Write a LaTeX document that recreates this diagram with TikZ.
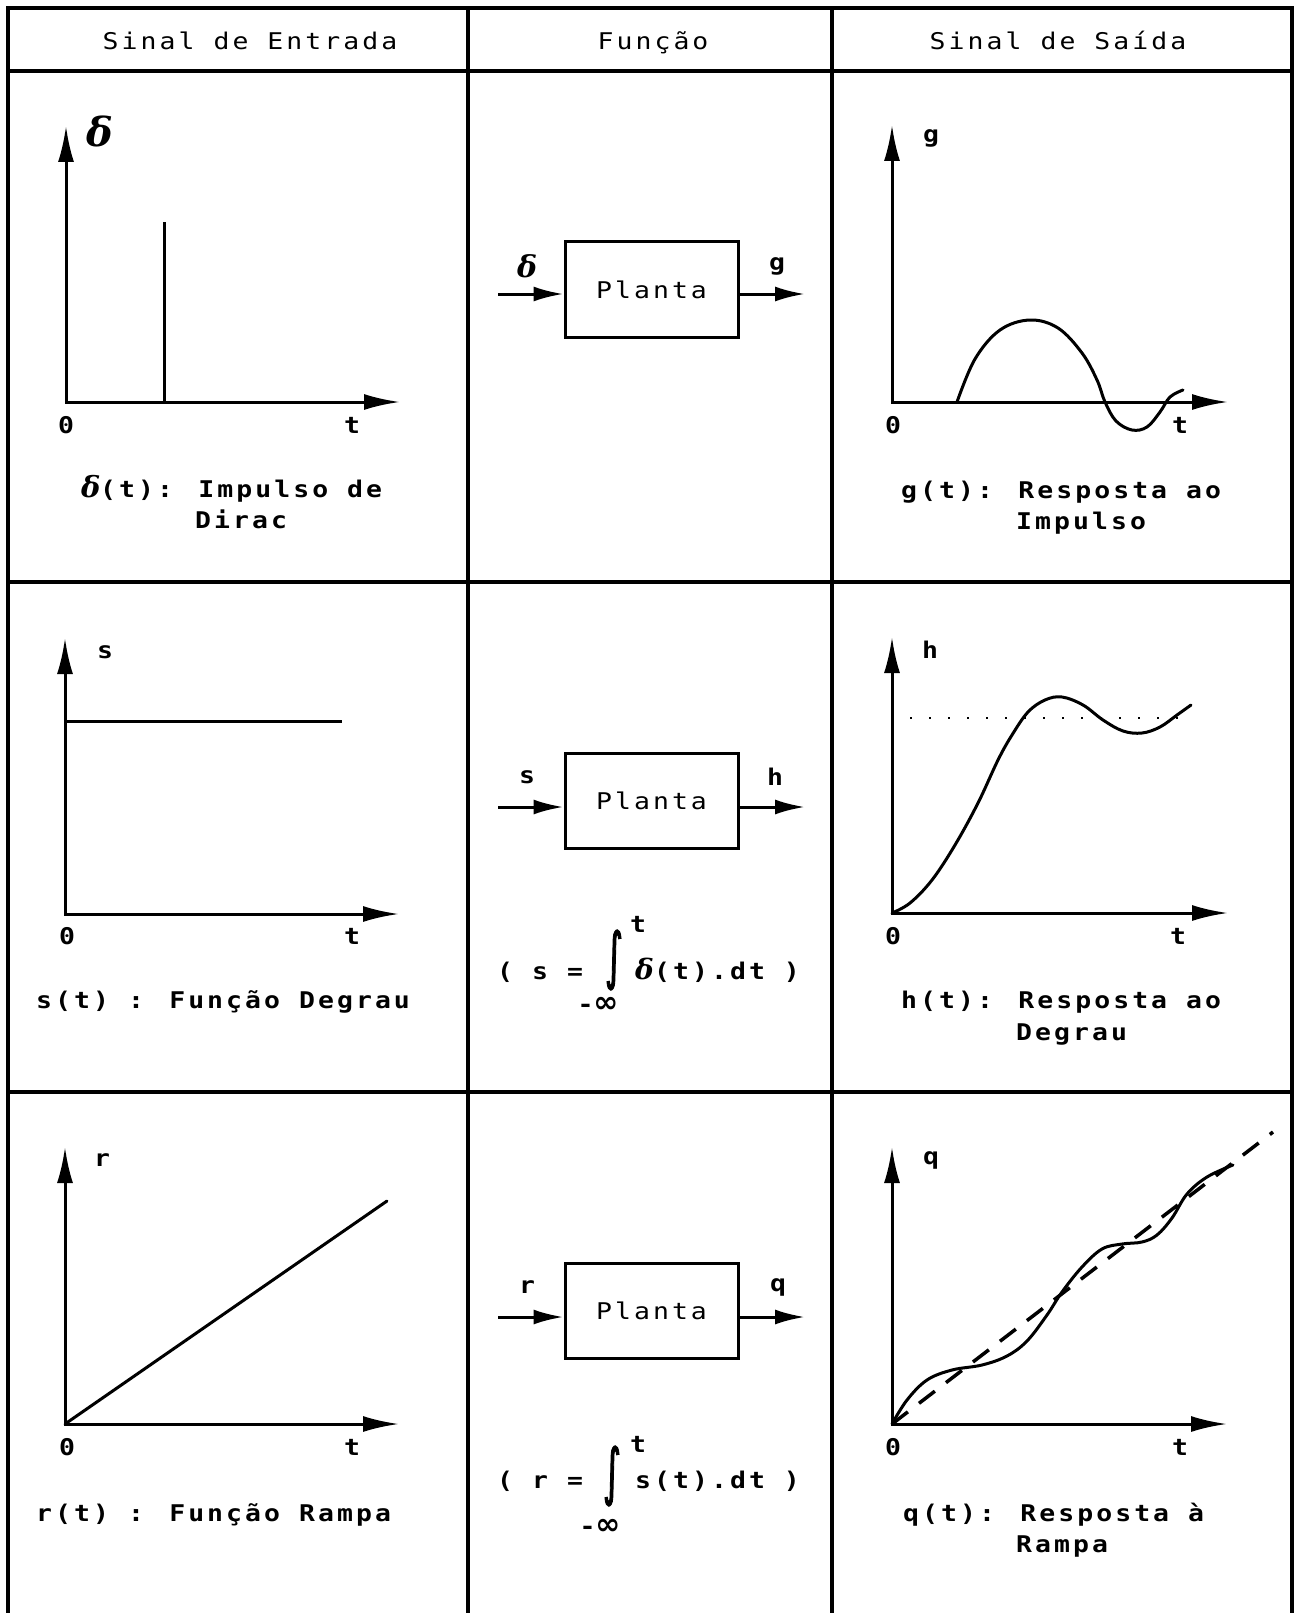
\documentclass[tikz,border=0pt]{standalone}
\usepackage{fontspec}
\usetikzlibrary{arrows.meta}
\newfontfamily\dm[FakeStretch=1.15,LetterSpace=13.3]{DejaVu Sans Mono}
\newfontfamily\dlt{DejaVu Serif}
\newfontfamily\djs{DejaVu Sans}
\newfontfamily\intf[FakeBold=2.5]{DejaVu Sans}
\newcommand\txtr{\dm\fontsize{23}{28}\selectfont}
\newcommand\txtb{\dm\bfseries\fontsize{23}{28}\selectfont}
\newcommand\dbig[1]{{\dlt\bfseries\itshape\fontsize{#1}{#1}\selectfont δ}}
\newcommand\intg[2]{\resizebox*{#1}{#2}{\intf ∫}}
\newcommand\minf{{\txtb-}{\djs\bfseries\fontsize{30}{30}\selectfont ∞}}
\tikzset{
 tbl/.style={line width=3.2pt},
 ax/.style={line width=3pt, {Latex[length=36pt,width=16pt]}-{Latex[length=36pt,width=16pt]}, line join=miter},
 crv/.style={line width=3pt, line cap=round, line join=round},
 blk/.style={draw, line width=3pt, minimum width=173pt, minimum height=95pt, inner sep=0pt, font=\txtr},
 sig/.style={line width=3pt, -{Latex[length=30pt,width=15pt]}},
 lab/.style={inner sep=0pt, font=\txtb},
 lbase/.style={inner sep=0pt, font=\txtb, anchor=base},
 capt/.style={inner sep=0pt, font=\txtb, anchor=base west},
 head/.style={inner sep=0pt, font=\txtr, anchor=base},
 dotl/.style={line width=2.2pt, dash pattern=on 2.2pt off 16.8pt},
 dashl/.style={line width=3.5pt, dash pattern=on 20pt off 14pt},
}
\begin{document}
\begin{tikzpicture}[x=1pt,y=-1pt]
\useasboundingbox (0,0) rectangle (1296,1613);
% table
\draw[tbl] (8,1613) -- (8,8) -- (1292,8) -- (1292,1613);
\draw[tbl] (8,71) -- (1292,71);
\draw[tbl] (8,582) -- (1292,582);
\draw[tbl] (8,1092) -- (1292,1092);
\draw[tbl] (468,8) -- (468,1613);
\draw[tbl] (832,8) -- (832,1613);
% headers
\node[head] (h1) at (250,50) {Sinal de Entrada};
\node[head] (h2) at (653,50) {Função};
\node[head] (h3) at (1058,50) {Sinal de Saída};

% ===== Row 1 left
\coordinate (o1) at (66,402); \coordinate (ya1) at (66,126); \coordinate (xa1) at (400,402);
\draw[ax] (ya1) -- (o1) -- (xa1);
\coordinate (i1b) at (164,402); \coordinate (i1t) at (164,222);
\draw[line width=3pt] (i1b) -- (i1t);
\node[lab] (d1) at (100,131) {\dbig{40}};
\node[lbase] (z1) at (66,433) {0};
\node[lbase] (t1) at (352,433) {t};
\node[capt] (c1) at (81,497) {\makebox[19pt][l]{\dbig{29}}(t): Impulso de};
\node[capt] (c1b) at (195,528) {Dirac};

% ===== Row 1 middle
\node[blk] (b1) at (651.5,289.5) {Planta};
\coordinate (in1) at (498,294); \coordinate (out1) at (805,294);
\draw[sig] (in1) -- (in1 -| b1.west);
\draw[sig] (b1.east |- out1) -- (out1);
\node[lab] (bd1) at (527,266) {\dbig{30}};
\node[lab] (bg1) at (777,266) {g};

% ===== Row 1 right
\coordinate (o3) at (892,402); \coordinate (ya3) at (892,125); \coordinate (xa3) at (1228,402);
\draw[ax] (ya3) -- (o3) -- (xa3);
\draw[crv] plot[smooth, tension=0.6] coordinates {(957,402) (975,359) (1000,330) (1030,320) (1058,328) (1082,353) (1097,380) (1105,402) (1116,421) (1132,430) (1147,427) (1160,412) (1170,397) (1183,390)};
\node[lab] (g3) at (931,138) {g};
\node[lbase] (z3) at (893,433) {0};
\node[lbase] (t3) at (1180,433) {t};
\node[capt] (c3) at (901,498) {g(t): Resposta ao};
\node[capt] (c3b) at (1016,529) {Impulso};

% ===== Row 2 left
\coordinate (o4) at (65,914); \coordinate (ya4) at (65,638); \coordinate (xa4) at (399,914);
\draw[ax] (ya4) -- (o4) -- (xa4);
\coordinate (s4a) at (65,721); \coordinate (s4b) at (342,721);
\draw[line width=3pt] (s4a) -- (s4b);
\node[lab] (s4) at (105,652) {s};
\node[lbase] (z4) at (67,944) {0};
\node[lbase] (t4) at (352,944) {t};
\node[capt] (c4) at (36,1008) {s(t) : Função Degrau};

% ===== Row 2 middle
\node[blk] (b2) at (651.5,800.5) {Planta};
\coordinate (in2) at (498,807); \coordinate (out2) at (805,807);
\draw[sig] (in2) -- (in2 -| b2.west);
\draw[sig] (b2.east |- out2) -- (out2);
\node[lab] (bs2) at (527,777) {s};
\node[lab] (bh2) at (775,777) {h};
\node[capt] (f2a) at (497,979) {( s =};
\node[inner sep=0pt] (f2i) at (614,960) {\intg{18pt}{60pt}};
\node[lab] (f2t) at (638,924) {t};
\node[inner sep=0pt] (f2m) at (598,1005) {\minf};
\node[capt] (f2b) at (635,979) {\makebox[19pt][l]{\dbig{28}}(t).dt )};

% ===== Row 2 right
\coordinate (o6) at (892,913); \coordinate (ya6) at (892,637); \coordinate (xa6) at (1228,913);
\draw[ax] (ya6) -- (o6) -- (xa6);
\coordinate (dl6a) at (910,718); \coordinate (dl6b) at (1184,718);
\draw[dotl] (dl6a) -- (dl6b);
\draw[crv] plot[smooth, tension=0.6] coordinates {(892,913) (910,903) (932,880) (955,845) (978,803) (998,760) (1012,735) (1028,712) (1045,700) (1062,697) (1083,705) (1103,720) (1123,731) (1142,733) (1160,727) (1177,715) (1191,705)};
\node[lab] (h6) at (930,650) {h};
\node[lbase] (z6) at (893,944) {0};
\node[lbase] (t6) at (1178,944) {t};
\node[capt] (c6) at (901,1008) {h(t): Resposta ao};
\node[capt] (c6b) at (1016,1040) {Degrau};

% ===== Row 3 left
\coordinate (o7) at (65,1424); \coordinate (ya7) at (65,1147); \coordinate (xa7) at (399,1424);
\draw[ax] (ya7) -- (o7) -- (xa7);
\coordinate (re7) at (387,1201);
\draw[crv] (o7) -- (re7);
\node[lab] (r7) at (102,1160) {r};
\node[lbase] (z7) at (67,1455) {0};
\node[lbase] (t7) at (352,1455) {t};
\node[capt] (c7) at (36,1521) {r(t) : Função Rampa};

% ===== Row 3 middle
\node[blk] (b3) at (651.5,1310.5) {Planta};
\coordinate (in3) at (498,1317); \coordinate (out3) at (805,1317);
\draw[sig] (in3) -- (in3 -| b3.west);
\draw[sig] (b3.east |- out3) -- (out3);
\node[lab] (br3) at (527,1287) {r};
\node[lab] (bq3) at (778,1287) {q};
\node[capt] (f3a) at (497,1488) {( r =};
\node[inner sep=0pt] (f3i) at (612,1476) {\intg{18pt}{60pt}};
\node[lab] (f3t) at (638,1444) {t};
\node[inner sep=0pt] (f3m) at (600,1527) {\minf};
\node[capt] (f3b) at (635,1488) {s(t).dt )};

% ===== Row 3 right
\coordinate (o9) at (892,1424); \coordinate (ya9) at (892,1147); \coordinate (xa9) at (1227,1424);
\draw[ax] (ya9) -- (o9) -- (xa9);
\coordinate (de9) at (1273,1132);
\draw[dashl] (o9) -- (de9);
\draw[crv] plot[smooth, tension=0.6] coordinates {(892,1424) (907,1400) (927,1380) (952,1370) (982,1365) (1007,1356) (1027,1341) (1047,1315) (1062,1292) (1082,1267) (1102,1249) (1122,1244) (1142,1242) (1157,1235) (1172,1218) (1187,1194) (1207,1177) (1233,1165)};
\node[lab] (q9) at (931,1160) {q};
\node[lbase] (z9) at (893,1455) {0};
\node[lbase] (t9) at (1180,1455) {t};
\node[capt] (c9) at (903,1521) {q(t): Resposta à};
\node[capt] (c9b) at (1016,1552) {Rampa};
\end{tikzpicture}
\end{document}
